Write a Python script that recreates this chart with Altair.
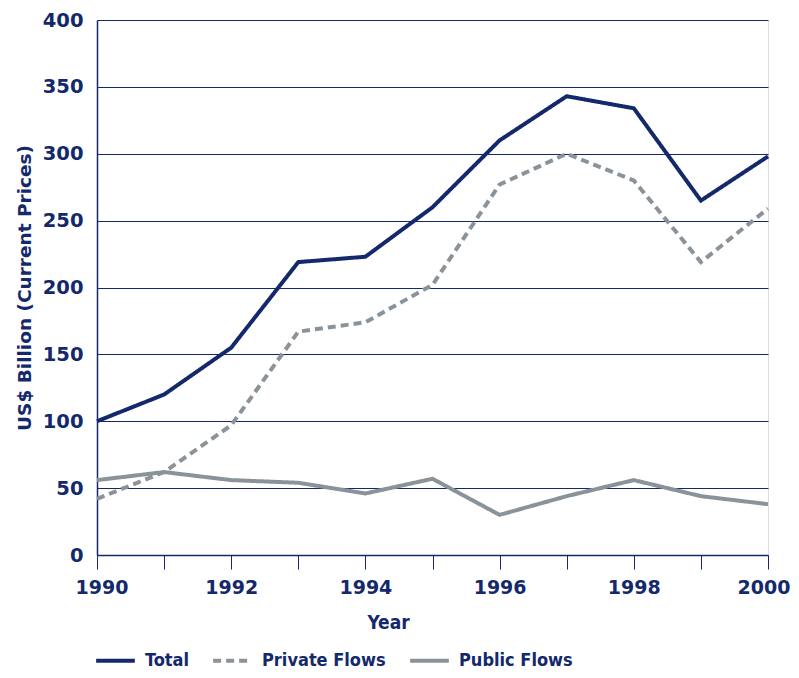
import altair as alt
import pandas as pd

years = list(range(1990, 2001))
total = [100, 120, 155, 219, 223, 260, 310, 343, 334, 265, 298]
private_flows = [42, 62, 97, 167, 174, 202, 277, 300, 280, 219, 259]
public_flows = [56, 62, 56, 54, 46, 57, 30, 44, 56, 44, 38]
series_names = ["Total", "Private Flows", "Public Flows"]
y_ticks = [0, 50, 100, 150, 200, 250, 300, 350, 400]

NAVY = "#13296b"
GREY = "#8a9399"
BG = "#edf0f1"
COND = "DejaVu Sans Condensed, Liberation Sans, sans-serif"

rows = []
for name, vals in zip(series_names, [total, private_flows, public_flows]):
    for yr, v in zip(years, vals):
        rows.append({"Year": yr, "Value": v, "Series": name})
df = pd.DataFrame(rows)

legend_cfg = dict(title=None, orient="none", direction="horizontal",
                  legendX=-3, legendY=619,
                  symbolType="stroke", symbolSize=1500, symbolStrokeWidth=4,
                  labelFont=COND, labelFontWeight="bold",
                  labelFontSize=18, labelColor=NAVY, labelOffset=8,
                  columnPadding=16)

chart = alt.Chart(df).mark_line(strokeWidth=4).encode(
    x=alt.X("Year:Q",
            scale=alt.Scale(domain=[1990, 2000], nice=False, zero=False),
            axis=alt.Axis(values=years, labelExpr="datum.value % 2 == 0 ? datum.value : ''",
                          grid=False, tickSize=14, tickColor=NAVY, tickWidth=1,
                          domainColor=NAVY, domainWidth=1.5,
                          labelFont="DejaVu Sans", labelFontWeight="bold", labelFontSize=19,
                          labelColor=NAVY, labelPadding=9,
                          labelFlush=True, labelFlushOffset=22,
                          title="Year", titleFont=COND, titleFontWeight="bold",
                          titleFontSize=19, titleColor=NAVY, titlePadding=16,
                          titleX=291, titleAnchor="start", titleAlign="center")),
    y=alt.Y("Value:Q",
            scale=alt.Scale(domain=[0, 400], nice=False),
            axis=alt.Axis(values=y_ticks, grid=True, gridColor=NAVY, gridWidth=1,
                          ticks=False, domainColor=NAVY, domainWidth=1.5,
                          labelFont="DejaVu Sans", labelFontWeight="bold", labelFontSize=19.5,
                          labelColor=NAVY, labelPadding=14,
                          title="US$ Billion (Current Prices)", titleFont="DejaVu Sans",
                          titleFontWeight="bold", titleFontSize=18.5, titleColor=NAVY,
                          titlePadding=8)),
    color=alt.Color("Series:N",
                    scale=alt.Scale(domain=series_names, range=[NAVY, GREY, GREY]),
                    legend=alt.Legend(**legend_cfg)),
    strokeDash=alt.StrokeDash("Series:N",
                              scale=alt.Scale(domain=series_names, range=[[1, 0], [8, 5], [1, 0]]),
                              legend=alt.Legend(**legend_cfg)),
).properties(
    width=671, height=535,
    autosize=alt.AutoSizeParams(type="none"),
    padding={"left": 89, "top": 12, "right": 23, "bottom": 115},
).configure_view(
    fill=BG, stroke=NAVY, strokeWidth=1.5
).configure(background="white")

chart.save("out.html", embed_options={"renderer": "svg", "actions": False})
